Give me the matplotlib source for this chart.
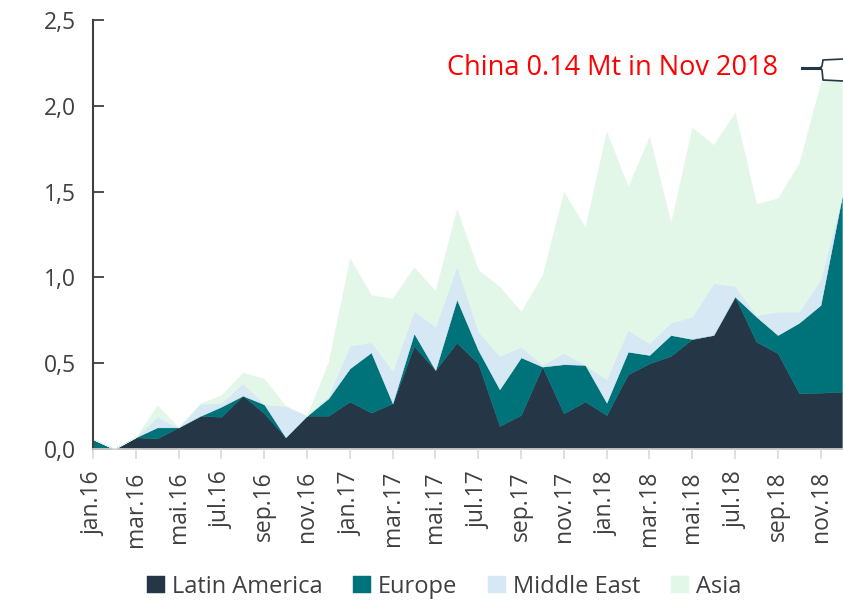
import numpy as np
import matplotlib.pyplot as plt
from matplotlib.lines import Line2D

# monthly volumes (Mt), jan.16 .. dec.18
months = ["jan.16", "feb.16", "mar.16", "apr.16", "mai.16", "jun.16", "jul.16", "aug.16",
          "sep.16", "okt.16", "nov.16", "des.16",
          "jan.17", "feb.17", "mar.17", "apr.17", "mai.17", "jun.17", "jul.17", "aug.17",
          "sep.17", "okt.17", "nov.17", "des.17",
          "jan.18", "feb.18", "mar.18", "apr.18", "mai.18", "jun.18", "jul.18", "aug.18",
          "sep.18", "okt.18", "nov.18", "des.18"]

latin_america = [0.0, 0.0, 0.068, 0.062, 0.126, 0.192, 0.188, 0.311, 0.208, 0.068, 0.194, 0.194,
                 0.276, 0.212, 0.266, 0.600, 0.460, 0.620, 0.499, 0.134, 0.198, 0.480, 0.208, 0.276,
                 0.198, 0.435, 0.499, 0.542, 0.641, 0.664, 0.888, 0.625, 0.558, 0.325, 0.328, 0.334]
europe = [0.056, 0.0, 0.0, 0.064, 0.0, 0.0, 0.059, 0.0, 0.052, 0.0, 0.0, 0.101,
          0.194, 0.351, 0.0, 0.074, 0.0, 0.252, 0.078, 0.214, 0.336, 0.0, 0.286, 0.214,
          0.072, 0.132, 0.049, 0.122, 0.0, 0.0, 0.0, 0.146, 0.106, 0.411, 0.511, 1.136]
middle_east = [0.0, 0.0, 0.0, 0.062, 0.0, 0.070, 0.023, 0.072, 0.0, 0.182, 0.0, 0.015,
               0.132, 0.059, 0.189, 0.130, 0.253, 0.194, 0.107, 0.194, 0.062, 0.010, 0.066, 0.0,
               0.136, 0.126, 0.068, 0.072, 0.130, 0.302, 0.062, 0.009, 0.136, 0.064, 0.150, 0.0]
asia = [0.0, 0.0, 0.0, 0.067, 0.0, 0.003, 0.045, 0.062, 0.150, 0.0, 0.0, 0.195,
        0.509, 0.275, 0.423, 0.255, 0.208, 0.331, 0.359, 0.404, 0.204, 0.524, 0.937, 0.802,
        1.443, 0.835, 1.204, 0.579, 1.103, 0.806, 1.010, 0.648, 0.661, 0.865, 1.142, 0.774]

series = ["Latin America", "Europe", "Middle East", "Asia"]
colors = ["#253746", "#00737A", "#D6E8F4", "#E3F7E9"]

plt.rcParams["font.family"] = ["Open Sans", "DejaVu Sans"]
text_col = "#404040"

fig = plt.figure(figsize=(8.43, 6), dpi=100)
ax = fig.add_axes([93 / 843, 151 / 600, 750 / 843, 429 / 600])

x = np.arange(len(months))
ax.stackplot(x, latin_america, europe, middle_east, asia, colors=colors, labels=series,
             edgecolor="face", linewidth=0.3)

ax.set_xlim(0, 35.05)
ax.set_ylim(0, 2.5)

ax.set_yticks([0, 0.5, 1.0, 1.5, 2.0, 2.5])
ax.set_yticklabels([f"{v:.1f}".replace(".", ",") for v in [0, 0.5, 1.0, 1.5, 2.0, 2.5]])
ax.set_xticks(x[::2])
ax.set_xticklabels(months[::2], rotation=90)

ax.tick_params(axis="y", direction="in", length=8, width=1.3, color=text_col,
               labelsize=16.5, labelcolor=text_col, pad=12)
ax.tick_params(axis="x", direction="out", length=7, width=1.2, color="#d9d9d9",
               labelsize=16.5, labelcolor=text_col, pad=9)

for s in ["top", "right"]:
    ax.spines[s].set_visible(False)
ax.spines["left"].set_color(text_col)
ax.spines["left"].set_linewidth(1.5)
ax.spines["bottom"].set_color("#d9d9d9")
ax.spines["bottom"].set_linewidth(1.2)

fig.legend(loc="center", bbox_to_anchor=(444 / 843, 1 - 587 / 600), ncol=4, frameon=False,
           fontsize=17, labelcolor=text_col, handlelength=0.75, handleheight=0.75,
           handletextpad=0.3, columnspacing=1.3)

# callout
fig.text(778 / 843, 1 - 68 / 600, "China 0.14 Mt in Nov 2018", color="red", fontsize=19.5,
         ha="right", va="center")
fig.add_artist(Line2D([802 / 843, 820 / 843], [1 - 68 / 600, 1 - 68 / 600],
                      color="#253746", lw=2.2, transform=fig.transFigure))
bx = [843, 823, 822, 820, 822, 823, 843]
by = [59, 60, 66, 68, 70, 80, 81]
fig.add_artist(plt.Polygon([(a / 843, 1 - b / 600) for a, b in zip(bx, by)], closed=False,
                           facecolor="white", edgecolor="#253746", lw=1.2,
                           transform=fig.transFigure))

fig.savefig("out.png", dpi=100)
